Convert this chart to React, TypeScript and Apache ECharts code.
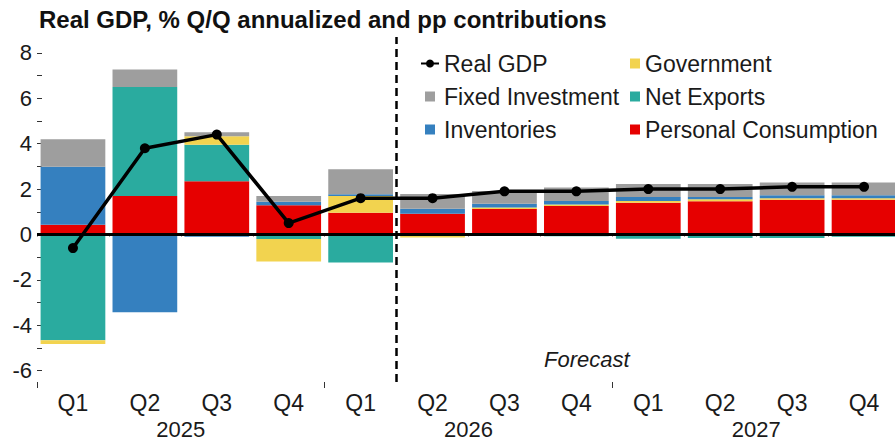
import React, { useEffect, useRef } from "react";
import * as echarts from "echarts";

const quarters = ["2025 Q1", "2025 Q2", "2025 Q3", "2025 Q4", "2026 Q1", "2026 Q2", "2026 Q3", "2026 Q4", "2027 Q1", "2027 Q2", "2027 Q3", "2027 Q4"];
const years = ["2025", "2026", "2027"];
const personalConsumption = [0.43, 1.69, 2.34, 1.29, 0.96, 0.91, 1.12, 1.25, 1.4, 1.46, 1.53, 1.53];
const netExports = [-4.66, 4.81, 1.61, -0.2, -1.23, 0, 0, -0.08, -0.19, -0.16, -0.16, -0.1];
const government = [-0.17, 0, 0.38, -0.99, 0.73, -0.13, 0.07, 0.07, 0.07, 0.09, 0.07, 0.07];
const inventories = [2.55, -3.43, -0.1, 0.15, 0.08, 0.22, 0.16, 0.15, 0.18, 0.1, 0.13, 0.13];
const fixedInvestment = [1.22, 0.77, 0.17, 0.25, 1.1, 0.65, 0.57, 0.6, 0.57, 0.57, 0.56, 0.56];
const realGDP = [-0.6, 3.8, 4.4, 0.5, 1.6, 1.6, 1.9, 1.9, 2.0, 2.0, 2.1, 2.1];
const yTickValues = [-6, -5, -4, -3, -2, -1, 0, 1, 2, 3, 4, 5, 6, 7, 8];
const yLabelValues = [-6, -4, -2, 0, 2, 4, 6, 8];
const forecastStart = 5;

const FONT = "Liberation Sans, Arial, sans-serif";
const TXT = "#1a1a1a";
const SQ = "path://M0 0H10V10H0Z";

export default function App() {
  const ref = useRef<HTMLDivElement>(null);
  useEffect(() => {
    document.body.style.margin = "0";
    const chart = echarts.init(ref.current as HTMLDivElement, null, { renderer: "svg" });
    const barBase = {
      type: "bar",
      stack: "total",
      xAxisIndex: 0,
      yAxisIndex: 0,
      barCategoryGap: "10%",
      z: 2,
    };
    chart.setOption({
      animation: false,
      textStyle: { fontFamily: FONT },
      title: {
        text: "Real GDP, % Q/Q annualized and pp contributions",
        left: 34,
        top: 2,
        textStyle: { fontFamily: FONT, fontWeight: "bold", fontSize: 24, color: "#111" },
      },
      legend: [
        {
          data: [
            { name: "Real GDP" },
            { name: "Fixed Investment", icon: SQ },
            { name: "Inventories", icon: SQ },
          ],
          orient: "vertical",
          left: 415,
          top: 47,
          itemWidth: 18,
          itemHeight: 10,
          itemGap: 10,
          textStyle: { fontFamily: FONT, fontSize: 23, color: TXT },
        },
        {
          data: [
            { name: "Government", icon: SQ },
            { name: "Net Exports", icon: SQ },
            { name: "Personal Consumption", icon: SQ },
          ],
          orient: "vertical",
          left: 625,
          top: 47,
          itemWidth: 10,
          itemHeight: 10,
          itemGap: 10,
          textStyle: { fontFamily: FONT, fontSize: 23, color: TXT },
        },
      ],
      grid: { left: 37, right: -5, top: 37, bottom: 61, outerBoundsMode: "none" },
      xAxis: [
        {
          type: "category",
          data: quarters,
          position: "bottom",
          axisLine: { show: false },
          axisTick: { show: true, length: 2, lineStyle: { color: "#333" } },
          axisLabel: {
            fontFamily: FONT,
            fontSize: 23,
            color: TXT,
            margin: 9,
            formatter: (v: string) => v.split(" ")[1],
          },
        },
        {
          type: "category",
          data: years,
          position: "bottom",
          axisLine: { show: false },
          axisTick: { show: true, length: 6, lineStyle: { color: "#333" } },
          axisLabel: { fontFamily: FONT, fontSize: 22, color: TXT, margin: 36 },
        },
        { type: "value", min: 0, max: 12, show: false },
      ],
      yAxis: {
        type: "value",
        min: -6.5,
        max: 8.7,
        splitLine: { show: false },
        axisLine: { show: false },
        axisTick: { show: true, inside: true, length: 5, customValues: yTickValues, lineStyle: { color: "#333" } },
        axisLabel: { customValues: yLabelValues, fontFamily: FONT, fontSize: 22, color: TXT, margin: 5 },
      },
      graphic: [
        {
          type: "text",
          left: 544,
          top: 348,
          style: { text: "Forecast", fontFamily: FONT, fontSize: 22, fontStyle: "italic", fill: TXT },
        },
      ],
      series: [
        {
          ...barBase,
          name: "Personal Consumption",
          data: personalConsumption,
          itemStyle: { color: "#e60000" },
          markLine: {
            silent: true,
            symbol: "none",
            label: { show: false },
            lineStyle: { color: "#000", width: 3, type: "solid" },
            data: [{ yAxis: 0 }],
          },
        },
        { ...barBase, name: "Net Exports", data: netExports, itemStyle: { color: "#2aab9f" } },
        { ...barBase, name: "Government", data: government, itemStyle: { color: "#f2d34f" } },
        { ...barBase, name: "Inventories", data: inventories, itemStyle: { color: "#3580bf" } },
        { ...barBase, name: "Fixed Investment", data: fixedInvestment, itemStyle: { color: "#9e9e9e" } },
        {
          type: "line",
          name: "Forecast boundary",
          xAxisIndex: 2,
          yAxisIndex: 0,
          data: [],
          markLine: {
            silent: true,
            symbol: "none",
            label: { show: false },
            lineStyle: { color: "#000", width: 2.5, type: [8, 5] },
            data: [{ xAxis: forecastStart }],
          },
        },
        {
          type: "line",
          name: "Real GDP",
          data: realGDP,
          xAxisIndex: 0,
          yAxisIndex: 0,
          z: 6,
          symbol: "circle",
          symbolSize: 10,
          lineStyle: { color: "#000", width: 3.5 },
          itemStyle: { color: "#000" },
        },
      ],
    });
    return () => chart.dispose();
  }, []);
  return <div ref={ref} style={{ width: 895, height: 443 }} />;
}
